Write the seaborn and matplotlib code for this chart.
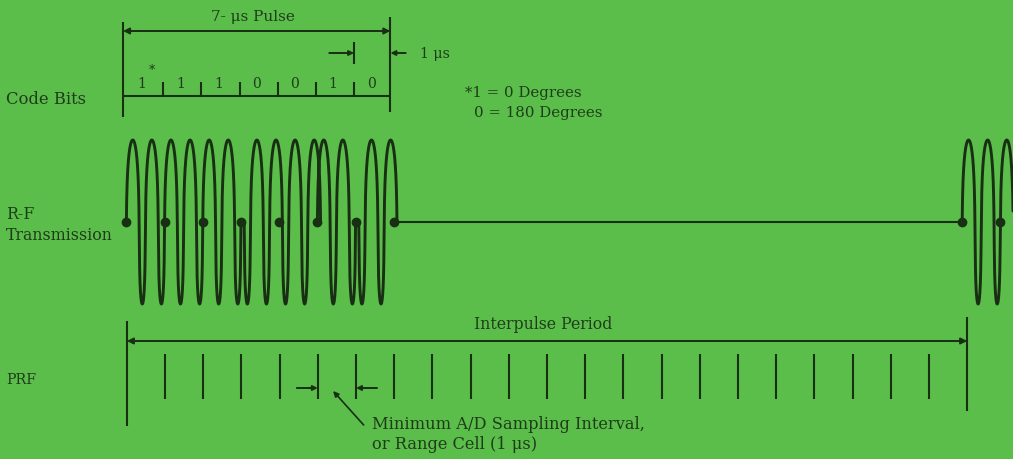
import numpy as np
import pandas as pd
import matplotlib
matplotlib.use("Agg")
import matplotlib.pyplot as plt
import seaborn as sns

# ---------------- data ----------------
code_bits = [1, 1, 1, 0, 0, 1, 0]            # 7-bit phase code
bit_labels = ["1", "1", "1", "0", "0", "1", "0"]
pulse_width_us = 7
interpulse_period_us = 22
prf_ticks_us = list(range(1, 22))            # A/D sampling instants (1 us apart)
cycles_per_bit = 2
phase_deg = {1: 0, 0: 180}
legend_lines = ["*1 = 0 Degrees", "0 = 180 Degrees"]
row_labels = ["Code Bits", "R-F\nTransmission", "PRF"]
pulse_title = "7- \u03bcs Pulse"
one_us_label = "1 \u03bcs"
ipp_label = "Interpulse Period"
sampling_note = ["Minimum A/D Sampling Interval,", "or Range Cell (1 \u03bcs)"]

# ---------------- style ----------------
BG = "#5bbe4a"
INK = "#182f14"
TXT = "#1f3c1a"

sns.set_theme(style="white")
plt.rcParams["font.family"] = ["DejaVu Serif", "Liberation Serif"]

fig = plt.figure(figsize=(10.13, 4.6), dpi=100, facecolor=BG)
ax = fig.add_axes([0, 0, 1, 1])
ax.set_facecolor(BG)
PX = 38.2          # pixels per microsecond
X0 = 123           # pixel of t = 0
ax.set_xlim(-X0 / PX, (1013 - X0) / PX)
ax.set_ylim(460, 0)
ax.axis("off")

LW = 1.5
rf_start = 0.13
prf_start = 0.1


def arrow(x1, y1, x2, y2, ms=9):
    ax.annotate("", xy=(x2, y2), xytext=(x1, y1),
                arrowprops=dict(arrowstyle="-|>", color=INK, lw=1.4,
                                mutation_scale=ms, shrinkA=0, shrinkB=0))


# ---------------- Code bits row ----------------
ax.vlines([0], 23, 118, color=INK, lw=LW)
ax.vlines([pulse_width_us], 18, 113, color=INK, lw=LW)
ax.hlines(97, 0, pulse_width_us, color=INK, lw=LW)
ax.vlines(np.arange(1, pulse_width_us) + 0.05, 83, 97, color=INK, lw=LW)
for i, lab in enumerate(bit_labels):
    ax.text(i + 0.5, 88, lab, ha="center", va="baseline", fontsize=10, color=TXT)
ax.text(0.76, 74, "*", ha="center", va="baseline", fontsize=9, color=TXT)

# 7-us pulse arrow
arrow(pulse_width_us / 2, 32, 0, 32)
arrow(pulse_width_us / 2, 32, pulse_width_us, 32)
ax.text(pulse_width_us / 2 - 0.1, 17, pulse_title, ha="center", va="center",
        fontsize=11, color=TXT)

# 1-us marker
ax.vlines([pulse_width_us - 1 + 0.05], 43, 65, color=INK, lw=LW)
arrow(pulse_width_us - 1 - 0.6, 54, pulse_width_us - 1 + 0.05, 54, ms=7)
arrow(pulse_width_us + 0.4, 54, pulse_width_us, 54, ms=7)
ax.text(pulse_width_us + 0.77, 54, one_us_label, ha="left", va="center",
        fontsize=10.2, color=TXT)

# phase legend
ax.text(8.95, 93, legend_lines[0], ha="left", va="center", fontsize=10.8, color=TXT)
ax.text(9.2, 113, legend_lines[1], ha="left", va="center", fontsize=10.8, color=TXT)

# ---------------- RF transmission ----------------
YC = 223
AMP = 82
R1 = 1.6 / PX      # helix-like lean (tall ovals)
R2 = 1.1 / PX      # rounding of crests and troughs


def rf_segment(t0, t1, bits):
    t = np.linspace(t0, t1, 6000)
    idx = np.clip(np.floor(t - t0).astype(int), 0, len(bits) - 1)
    ph = np.deg2rad([phase_deg[bits[k]] for k in idx])
    theta = 2 * np.pi * cycles_per_bit * (t - t0) + ph
    x = rf_start + t - R1 * np.cos(theta) - R2 * np.sin(2 * theta)
    y = YC - AMP * np.sin(theta)
    return pd.DataFrame({"x": x, "y": y})


wave1 = rf_segment(0, pulse_width_us, code_bits)
sns.lineplot(data=wave1, x="x", y="y", sort=False, estimator=None, ax=ax,
             color=INK, lw=2.1)
wave2 = rf_segment(interpulse_period_us - 0.12, interpulse_period_us + 1.3, code_bits)
sns.lineplot(data=wave2, x="x", y="y", sort=False, estimator=None, ax=ax,
             color=INK, lw=2.1)
ax.hlines(YC, rf_start + pulse_width_us, rf_start + interpulse_period_us - 0.12,
          color=INK, lw=LW)
dots = np.r_[np.arange(0, pulse_width_us + 1),
             interpulse_period_us - 0.12 + np.arange(0, 2)] + rf_start
ax.plot(dots - R1, np.full(len(dots), YC), "o", color=INK, ms=6)

# ---------------- PRF row ----------------
ipp_end = prf_start + interpulse_period_us
ax.vlines([prf_start], 322, 427, color=INK, lw=LW)
ax.vlines([ipp_end], 318, 412, color=INK, lw=LW)
arrow(ipp_end / 2, 342, prf_start, 342)
arrow(ipp_end / 2, 342, ipp_end, 342)
ax.text((prf_start + ipp_end) / 2 - 0.1, 325, ipp_label, ha="center", va="center",
        fontsize=11.3, color=TXT)
ax.vlines(np.array(prf_ticks_us) + prf_start, 355, 400, color=INK, lw=LW)

# sampling interval arrows
arrow(prf_start + 5 - 0.55, 389, prf_start + 5, 389, ms=7)
arrow(prf_start + 6 + 0.55, 389, prf_start + 6, 389, ms=7)
ax.annotate("", xy=(prf_start + 5.4, 392), xytext=(prf_start + 6.2, 426),
            arrowprops=dict(arrowstyle="-|>", color=INK, lw=1.2,
                            mutation_scale=8, shrinkA=0, shrinkB=0))
ax.text(prf_start + 6.42, 425, sampling_note[0], ha="left", va="center",
        fontsize=11.7, color=TXT)
ax.text(prf_start + 6.42, 445, sampling_note[1], ha="left", va="center",
        fontsize=11.7, color=TXT)

# ---------------- row labels ----------------
lx = -X0 / PX + 6 / PX
ax.text(lx, 100, row_labels[0], ha="left", va="center", fontsize=11.8, color=TXT)
ax.text(lx, 225, row_labels[1], ha="left", va="center", fontsize=11.4,
        color=TXT, linespacing=1.35)
ax.text(lx, 380, row_labels[2], ha="left", va="center", fontsize=10.2, color=TXT)

fig.savefig("out.png", dpi=100, facecolor=BG)
